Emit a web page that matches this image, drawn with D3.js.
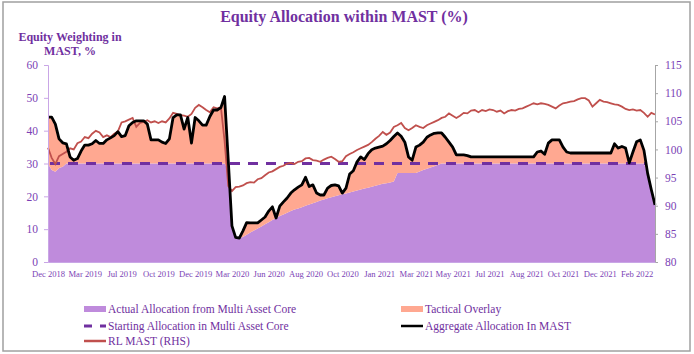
<!DOCTYPE html>
<html>
<head>
<meta charset="utf-8">
<title>Equity Allocation within MAST</title>
<script src="https://d3js.org/d3.v7.min.js"></script>
<style>
  body { margin: 0; background: #fff; }
  svg text { font-family: "Liberation Serif", "DejaVu Serif", serif; }
</style>
</head>
<body>
<svg id="chart" width="694" height="354"></svg>
<script>
// x labels sit on every 10th observation
var xLabels = ["Dec 2018","Mar 2019","Jul 2019","Oct 2019","Dec 2019","Mar 2020","Jun 2020","Aug 2020","Oct 2020",
               "Jan 2021","Mar 2021","May 2021","Jul 2021","Aug 2021","Oct 2021","Dec 2021","Feb 2022"];
var leftTicks = [0, 10, 20, 30, 40, 50, 60];
var rightTicks = [80, 85, 90, 95, 100, 105, 110, 115];
var startingAlloc = 30;

// Actual allocation from multi asset core (%)
var core = [30,28,27.5,28.6,29,30,30,30,30,30,
  30,30,30,30,30,30,30,30,30,30,
  30,30,30,30,30,30,30,30,30,30,
  30,30,30,30,30,30,30,30,30,30,
  30,30,30,30,30,30,30,30,30,28,
  11,7.5,7.3,7.6,8.3,9.0,9.6,10.2,10.8,11.5,
  12.1,12.8,13.4,14.0,14.5,15.0,15.5,16.0,16.3,16.7,
  17.1,17.5,17.9,18.3,18.7,19.0,19.4,19.7,20.0,20.3,
  20.6,20.9,21.2,21.5,21.8,22.1,22.4,22.6,22.9,23.2,
  23.5,23.8,24.0,24.2,24.5,27.1,27.1,27.1,27.1,27.1,
  27.1,27.6,28,28.4,28.8,29.2,29.6,30,30,30,
  30,30,30,30,30,30,30,30,30,30,
  30,30,30,30,30,30,30,30,30,30,
  30,30,30,30,30,30,30,30,30,30,
  30,30,30,30,30,30,30,30,30,30,
  30,30,30,30,30,30,30,30,30,30,
  30,30,30,27,22,17.4];

// Aggregate allocation in MAST (%)
var aggregate = [44.1,44.1,42,37.5,36.3,36,32,31,31.5,33.8,
  35.6,35.6,36,37,36.1,36.1,37.2,37.8,38.5,39.7,
  38.2,38.5,41.5,42.5,43,43,43,42,37.2,37.2,
  37.2,36.5,36.1,37.5,44,44.8,44.8,40.5,44,36.2,
  44,43,41.7,41.7,44.3,46.3,46.3,47,50.4,31,
  11,7.5,7.3,9.5,12,11.9,11.9,11.9,12.8,13.7,
  15.5,16.8,13,17,18.3,19.5,21,22,22.8,23.5,
  25.8,23,23.5,21,20.4,20.4,22.5,23.3,23.5,23.2,
  21,22.5,26.8,27.8,30.5,32,31.2,33,34.2,34.7,
  35,35.3,36,37,38.2,39.3,38.3,36.5,32,31,
  35,35.6,36.5,38,38.7,39.2,39.3,39.3,38,36.5,
  35,32.6,32.6,32.6,32.4,32,32,32,32,32,
  32,32,32,32,32,32,32,32,32,32,
  32,32,32,33.5,33.8,32.8,36.2,37.2,37.2,37.2,
  35,33.5,33.2,33.2,33.2,33.2,33.2,33.2,33.2,33.2,
  33.2,33.2,33.2,33.2,36,34.7,35.2,34.7,30.2,33.5,
  36.6,37.2,34,27,22,17.4];

// RL MAST index (RHS)
var rlMast = [100.3,98.5,97.4,98.8,99.2,99.6,100.2,100.0,101.1,101.4,
  102.2,102.0,102.8,103.3,103.0,102.2,102.5,102.2,102.8,103.2,
  104.8,105.0,105.3,105.6,104.0,104.7,104.9,105.2,104.8,105.0,
  104.7,105.0,104.8,105.5,106.5,106.3,106.1,106.0,105.8,106.3,
  107.4,107.9,107.5,107.0,106.6,107.5,107.3,107.5,101.5,93.5,
  92.6,93.3,93.4,93.6,94.0,94.2,94.1,94.7,94.9,95.4,
  95.9,96.1,96.5,96.9,97.1,97.5,97.6,97.4,97.8,97.9,
  98.4,98.5,98.1,98.0,97.8,98.2,98.5,98.7,98.3,97.8,
  97.9,98.8,99.2,99.5,99.9,100.2,100.5,100.8,101.3,101.9,
  102.4,103.1,102.6,103.0,104.0,104.3,104.7,103.8,103.4,103.8,
  104.3,104.0,103.8,104.3,104.6,104.9,105.2,105.6,105.8,106.4,
  106.0,105.6,106.0,106.5,106.4,106.9,107.0,106.6,107.0,106.8,
  107.1,107.0,106.7,106.9,106.4,106.8,107.0,106.9,107.2,107.3,
  107.6,107.9,108.2,108.0,108.2,108.1,107.9,107.6,107.3,107.8,
  108.2,108.3,108.5,108.6,108.9,109.1,109.1,108.7,107.6,108.2,
  108.8,108.5,108.4,108.2,108.0,107.9,107.6,107.2,107.0,107.1,
  106.9,107.0,106.5,105.8,106.5,106.2];

var purple = "#7030A0", tickColor = "#7B3FB5";
var svg = d3.select("#chart");

var rows = core.map(function (c, i) {
  return { i: i, core: c, agg: Math.max(aggregate[i], c), tac: Math.max(0, aggregate[i] - c), rl: rlMast[i] };
});

var x = d3.scaleLinear().domain([0, core.length - 1]).range([48, 655]);
var yL = d3.scaleLinear().domain([0, 60]).range([262, 65]);
var yR = d3.scaleLinear().domain([80, 115]).range([262, 65]);

// frame
svg.append("rect").attr("x", 3).attr("y", 2).attr("width", 687).attr("height", 349)
  .attr("fill", "none").attr("stroke", "#a0a0a0").attr("stroke-width", 1.5);

// title
svg.append("text").attr("x", 344).attr("y", 22).attr("text-anchor", "middle")
  .attr("font-size", 16).attr("font-weight", "bold").attr("fill", purple)
  .text("Equity Allocation within MAST (%)");
svg.append("text").attr("x", 70).attr("y", 41).attr("text-anchor", "middle")
  .attr("font-size", 12).attr("font-weight", "bold").attr("fill", purple).text("Equity Weighting in");
svg.append("text").attr("x", 70).attr("y", 55).attr("text-anchor", "middle")
  .attr("font-size", 12).attr("font-weight", "bold").attr("fill", purple).text("MAST, %");

// areas
svg.append("path").datum(rows).attr("fill", "#bf8bdc")
  .attr("d", d3.area().x(function (d) { return x(d.i); }).y0(yL(0)).y1(function (d) { return yL(d.core); }));
svg.append("path").datum(rows).attr("fill", "#ffa891")
  .attr("d", d3.area().x(function (d) { return x(d.i); })
    .y0(function (d) { return yL(d.core); }).y1(function (d) { return yL(d.core + d.tac); }));

// starting allocation dashed line
svg.append("line").attr("x1", x(0) + 2).attr("x2", x(core.length - 1) - 8)
  .attr("y1", yL(startingAlloc)).attr("y2", yL(startingAlloc))
  .attr("stroke", purple).attr("stroke-width", 3).attr("stroke-dasharray", "10,8");

// RL MAST
svg.append("path").datum(rows).attr("fill", "none").attr("stroke", "#c0504d").attr("stroke-width", 1.8)
  .attr("d", d3.line().x(function (d) { return x(d.i); }).y(function (d) { return yR(d.rl); }));

// aggregate
svg.append("path").datum(rows).attr("fill", "none").attr("stroke", "#000").attr("stroke-width", 2.8)
  .attr("stroke-linejoin", "round")
  .attr("d", d3.line().x(function (d) { return x(d.i); }).y(function (d) { return yL(d.agg); }));

// axes
var gl = svg.append("g").attr("transform", "translate(48,0)")
  .call(d3.axisLeft(yL).tickValues(leftTicks).tickSize(4).tickPadding(6));
gl.select(".domain").attr("stroke", "#c9a6e6");
gl.selectAll(".tick line").attr("stroke", "#c9a6e6");
gl.selectAll("text").attr("fill", tickColor).attr("font-size", 11.5).attr("font-family", "Liberation Serif");

var gr = svg.append("g").attr("transform", "translate(655,0)")
  .call(d3.axisRight(yR).tickValues(rightTicks).tickSize(3).tickPadding(7));
gr.select(".domain").attr("stroke", "#a6a6a6");
gr.selectAll(".tick line").attr("stroke", "#a6a6a6");
gr.selectAll("text").attr("fill", tickColor).attr("font-size", 11.5).attr("font-family", "Liberation Serif");

var gb = svg.append("g").attr("transform", "translate(0,262)")
  .call(d3.axisBottom(x).tickValues(xLabels.map(function (d, k) { return k * 10; }))
    .tickFormat(function (d) { return xLabels[d / 10]; }).tickSize(0).tickPadding(9));
gb.select(".domain").attr("stroke", "#c9a6e6");
gb.selectAll("text").attr("fill", tickColor).attr("font-size", 8.6).attr("font-family", "Liberation Serif");

// legend
var legend = [
  { label: "Actual Allocation from Multi Asset Core", type: "rect", color: "#bf8bdc", x: 84, y: 309 },
  { label: "Tactical Overlay", type: "rect", color: "#ffa891", x: 401, y: 309 },
  { label: "Starting Allocation in Multi Asset Core", type: "dash", color: purple, x: 84, y: 326 },
  { label: "Aggregate Allocation In MAST", type: "line", color: "#000", x: 401, y: 326 },
  { label: "RL MAST (RHS)", type: "line", color: "#c0504d", x: 84, y: 341 }
];
legend.forEach(function (l) {
  if (l.type === "rect") {
    svg.append("rect").attr("x", l.x).attr("y", l.y - 3).attr("width", 22).attr("height", 6).attr("fill", l.color);
  } else {
    svg.append("line").attr("x1", l.x).attr("x2", l.x + 22).attr("y1", l.y).attr("y2", l.y)
      .attr("stroke", l.color).attr("stroke-width", l.type === "dash" ? 3 : 2.5)
      .attr("stroke-dasharray", l.type === "dash" ? "8,8,6,100" : null);
  }
  svg.append("text").attr("x", l.x + 24).attr("y", l.y + 4).attr("font-size", 11.5)
    .attr("fill", purple).text(l.label);
});
</script>
</body>
</html>
